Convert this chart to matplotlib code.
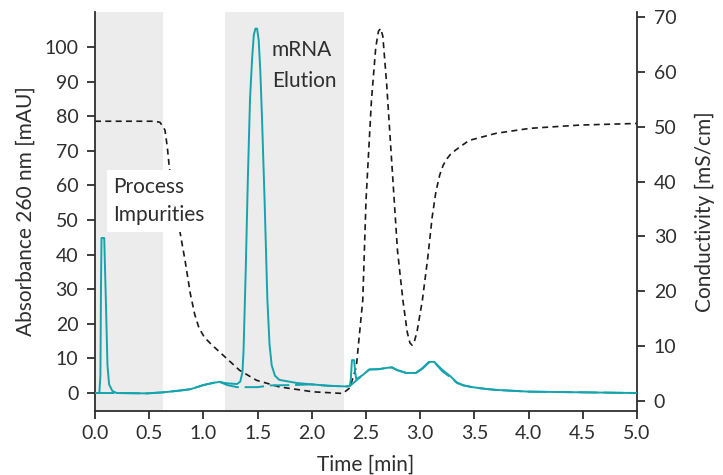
import matplotlib
matplotlib.use("Agg")
import matplotlib.pyplot as plt

plt.rcParams['font.family'] = ['Lato', 'DejaVu Sans']

# absorbance run with mRNA peak (min, mAU)
t_abs = [0.00, 0.04, 0.05, 0.055, 0.06, 0.085, 0.10, 0.115, 0.13, 0.16, 0.20,
         0.48, 0.63, 0.78, 0.88, 1.00, 1.10, 1.15, 1.22, 1.31, 1.34, 1.36, 1.37,
         1.39, 1.41, 1.43, 1.45, 1.465, 1.48, 1.495, 1.51, 1.525, 1.54, 1.565,
         1.59, 1.61, 1.63, 1.66, 1.70, 1.86, 2.00, 2.15, 2.32, 2.35, 2.36, 2.37,
         2.39, 2.40, 2.41, 2.47, 2.53, 2.62, 2.70, 2.74, 2.79, 2.87, 2.96, 3.02,
         3.08, 3.13, 3.20, 3.28, 3.34, 3.40, 3.48, 3.60, 3.70, 4.00, 4.50, 5.00]
a_abs = [0.0, 0.0, 5.0, 30.0, 44.8, 44.8, 27.0, 8.0, 2.5, 0.6, 0.0,
         -0.1, 0.2, 0.7, 1.1, 2.3, 3.0, 3.2, 2.8, 2.6, 3.3, 6.0, 12.0,
         35.0, 62.0, 85.0, 97.0, 103.5, 105.3, 105.3, 102.0, 93.0, 80.0, 55.0,
         27.0, 14.0, 8.0, 5.0, 3.8, 2.9, 2.5, 2.1, 1.9, 2.0, 4.0, 9.5,
         9.5, 6.0, 4.0, 5.2, 6.8, 6.9, 7.3, 7.4, 6.6, 5.8, 5.8, 7.2,
         9.0, 9.0, 6.8, 4.8, 3.0, 2.2, 1.7, 1.2, 0.9, 0.4, 0.2, 0.0]

# second overlaid run
t_abs2 = [0.00, 0.20, 0.48, 0.63, 0.78, 0.88, 1.00, 1.10, 1.15, 1.22, 1.31,
          1.50, 1.62, 1.83, 2.00, 2.15, 2.32, 2.35, 2.47, 2.53, 2.62, 2.70,
          2.74, 2.79, 2.87, 2.96, 3.02, 3.08, 3.13, 3.20, 3.28, 3.34, 3.40,
          3.48, 3.60, 3.70, 4.00, 4.50, 5.00]
a_abs2 = [0.0, 0.0, -0.1, 0.2, 0.7, 1.1, 2.3, 3.0, 3.2, 2.3, 1.7,
          1.7, 2.2, 2.3, 2.5, 2.1, 1.9, 2.0, 5.2, 6.8, 6.9, 7.3,
          7.4, 6.6, 5.8, 5.8, 7.0, 8.8, 8.9, 6.4, 4.5, 2.9, 2.2,
          1.7, 1.2, 0.9, 0.4, 0.2, 0.0]

# conductivity (mS/cm)
t_cond = [0.00, 0.55, 0.60, 0.645, 0.667, 0.685, 0.73, 0.776, 0.83, 0.88, 0.92,
          0.96, 1.01, 1.075, 1.18, 1.335, 1.49, 1.70, 2.01, 2.285, 2.35, 2.41,
          2.47, 2.50, 2.55, 2.59, 2.615, 2.635, 2.655, 2.69, 2.72, 2.76, 2.79,
          2.84, 2.88, 2.905, 2.925, 2.945, 2.97, 3.02, 3.07, 3.11, 3.145, 3.18,
          3.21, 3.24, 3.28, 3.33, 3.45, 3.70, 4.01, 4.47, 5.00]
c_cond = [51.0, 51.0, 50.8, 49.4, 46.3, 42.7, 37.0, 31.7, 25.7, 19.5, 15.8,
          13.3, 11.6, 10.3, 8.4, 5.6, 3.8, 2.6, 1.7, 1.4, 2.4, 6.2,
          18.4, 36.6, 54.8, 64.5, 67.4, 67.9, 66.5, 57.9, 48.8, 36.6, 27.5,
          18.4, 12.6, 10.6, 10.2, 10.8, 12.6, 18.4, 26.2, 33.5, 38.2, 41.2,
          42.9, 44.0, 45.0, 45.8, 47.5, 48.8, 49.7, 50.3, 50.6]

regions = [(0.0, 0.63), (1.2, 2.3)]
teal = '#16a3ae'
ink = '#2e2e2e'

fig = plt.figure(figsize=(7.23, 4.75), dpi=100)
ax = fig.add_axes([0.1314, 0.1347, 0.7497, 0.84])
ax2 = ax.twinx()

# shading and conductivity live on the lower (right) axes
for x0, x1 in regions:
    ax2.axvspan(x0, x1, color='#ececec', lw=0, zorder=0)
ax2.plot(t_cond, c_cond, color='#1a1a1a', lw=1.2, ls=(0, (3.6, 2.6)), zorder=2)

ax.plot(t_abs2, a_abs2, color=teal, lw=1.4, ls=(0, (10, 3)), zorder=2)
ax.plot(t_abs, a_abs, color=teal, lw=1.4, zorder=3)

ax.set_xlim(0, 5.0)
ax.set_ylim(-5.2, 110.1)
ax2.set_ylim(-1.8, 70.9)
ax.set_xticks([i * 0.5 for i in range(11)])
ax.set_xticklabels([f'{i * 0.5:.1f}' for i in range(11)])
ax.set_yticks(range(0, 101, 10))
ax2.set_yticks(range(0, 71, 10))

for a in (ax, ax2):
    a.spines['top'].set_visible(False)
    for s in a.spines.values():
        s.set_color(ink)
        s.set_linewidth(1.3)
    a.tick_params(colors=ink, labelsize=14, length=6, width=1.3, pad=6)
    a.patch.set_visible(False)
ax.spines['right'].set_visible(False)
ax2.spines['left'].set_visible(False)
ax2.spines['bottom'].set_visible(False)
ax.tick_params(axis='x', pad=4)

ax.set_xlabel('Time [min]', fontsize=15, color=ink, labelpad=9)
ax.set_ylabel('Absorbance 260 nm [mAU]', fontsize=15, color=ink, labelpad=6)
ax2.set_ylabel('Conductivity [mS/cm]', fontsize=15, color=ink, labelpad=13)

ax2.set_zorder(1)
ax.set_zorder(2)

ax.text(0.17, 48.6, 'Process\nImpurities', fontsize=15, color=ink, linespacing=1.5,
        va='bottom', ha='left', zorder=5,
        bbox=dict(facecolor='white', edgecolor='none', pad=5))
ax.text(1.63, 87.4, 'mRNA\nElution', fontsize=15, color=ink, linespacing=1.65,
        va='bottom', ha='left', zorder=5)

fig.savefig('out.png', dpi=100)
